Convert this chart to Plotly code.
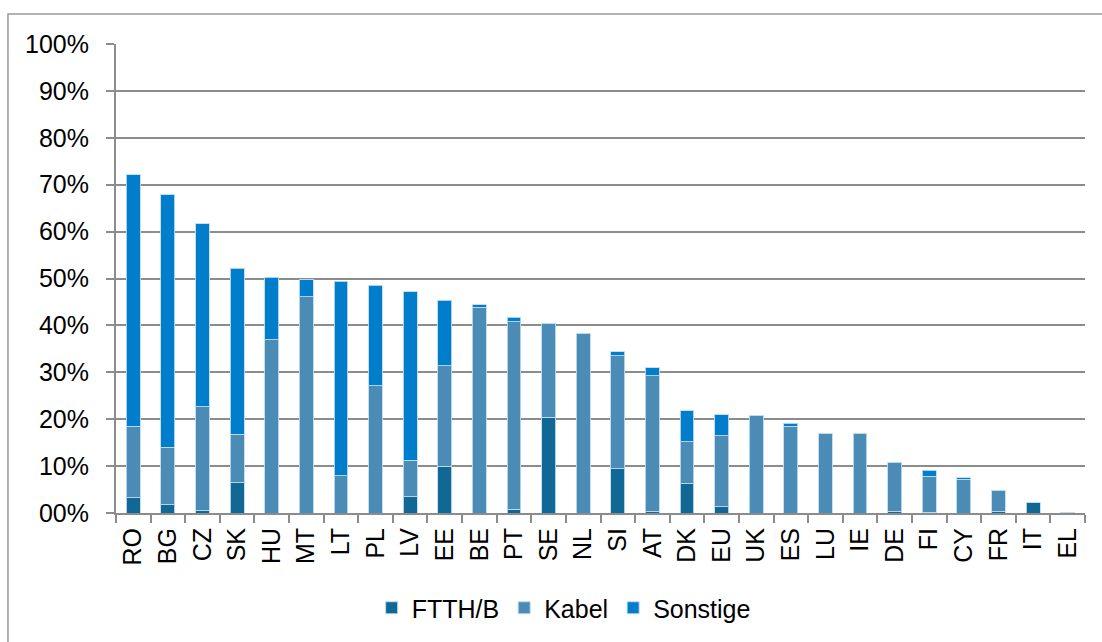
import plotly.graph_objects as go

countries = ["RO", "BG", "CZ", "SK", "HU", "MT", "LT", "PL", "LV", "EE", "BE", "PT", "SE", "NL",
             "SI", "AT", "DK", "EU", "UK", "ES", "LU", "IE", "DE", "FI", "CY", "FR", "IT", "EL"]
# cumulative tops (in %)
ftth_top = [3.3, 1.8, 0.5, 6.5, 0.0, 0.0, 0.0, 0.0, 3.5, 10.0, 0.0, 0.8, 20.4, 0.0,
            9.4, 0.3, 6.2, 1.3, 0.0, 0.0, 0.0, 0.0, 0.3, 0.2, 0.0, 0.3, 2.2, 0.1]
kabel_top = [18.5, 14.0, 22.7, 16.8, 36.9, 46.1, 7.9, 27.1, 11.3, 31.4, 43.9, 40.8, 40.5, 38.3,
             33.5, 29.3, 15.2, 16.5, 20.7, 18.5, 17.0, 16.9, 10.8, 7.8, 7.2, 4.8, 2.2, 0.1]
total_top = [72.1, 67.9, 61.7, 52.2, 50.3, 49.7, 49.4, 48.6, 47.2, 45.4, 44.4, 41.7, 40.5, 38.3,
             34.4, 31.0, 21.8, 20.9, 20.7, 19.1, 17.0, 16.9, 10.8, 9.1, 7.5, 4.8, 2.2, 0.1]

ftth = [f / 100 for f in ftth_top]
kabel = [(k - f) / 100 for k, f in zip(kabel_top, ftth_top)]
sonstige = [(t - k) / 100 for t, k in zip(total_top, kabel_top)]

y_ticks = [0, 0.1, 0.2, 0.3, 0.4, 0.5, 0.6, 0.7, 0.8, 0.9, 1.0]
y_labels = ["00%", "10%", "20%", "30%", "40%", "50%", "60%", "70%", "80%", "90%", "100%"]

edge = dict(color="rgba(190,220,240,0.9)", width=1)
fig = go.Figure()
fig.add_bar(x=countries, y=ftth, name="FTTH/B", marker=dict(color="#126894", line=edge))
fig.add_bar(x=countries, y=kabel, name="Kabel", marker=dict(color="#4b8cb7", line=edge))
fig.add_bar(x=countries, y=sonstige, name="Sonstige", marker=dict(color="#007ecb", line=edge))

font = "Liberation Sans, Arial, sans-serif"
fig.update_layout(
    barmode="stack",
    bargap=0.6,
    width=1102, height=642,
    margin=dict(l=116, r=17, t=44, b=128),
    paper_bgcolor="white", plot_bgcolor="white",
    font=dict(family=font, size=25, color="black"),
    showlegend=True,
    legend=dict(orientation="h", x=0.462, xanchor="center", y=-0.2, yanchor="middle",
                font=dict(size=25), itemwidth=30, traceorder="normal"),
    xaxis=dict(showline=True, linecolor="#8c8c8c", linewidth=2, ticks="outside",
               tickson="boundaries", ticklen=8, tickcolor="#8c8c8c", tickwidth=2,
               tickangle=-90, tickfont=dict(size=25), showgrid=False,
               ticklabelstandoff=3),
    yaxis=dict(range=[0, 1], tickvals=y_ticks, ticktext=y_labels, showline=True,
               linecolor="#8c8c8c", linewidth=2, ticks="outside", ticklen=8,
               tickcolor="#8c8c8c", tickwidth=2, showgrid=True, gridcolor="#8c8c8c",
               gridwidth=2, ticklabelstandoff=12, tickfont=dict(size=25), zeroline=False),
    shapes=[dict(type="rect", xref="paper", yref="paper", x0=-0.1115, x1=1.05, y0=-0.35,
                 y1=1.064, line=dict(color="#999999", width=1.5), fillcolor="rgba(0,0,0,0)",
                 layer="below")],
)

fig.write_html("out.html", config={"displayModeBar": False},
               post_script="document.body.style.margin='0';document.body.style.overflow='hidden';")
